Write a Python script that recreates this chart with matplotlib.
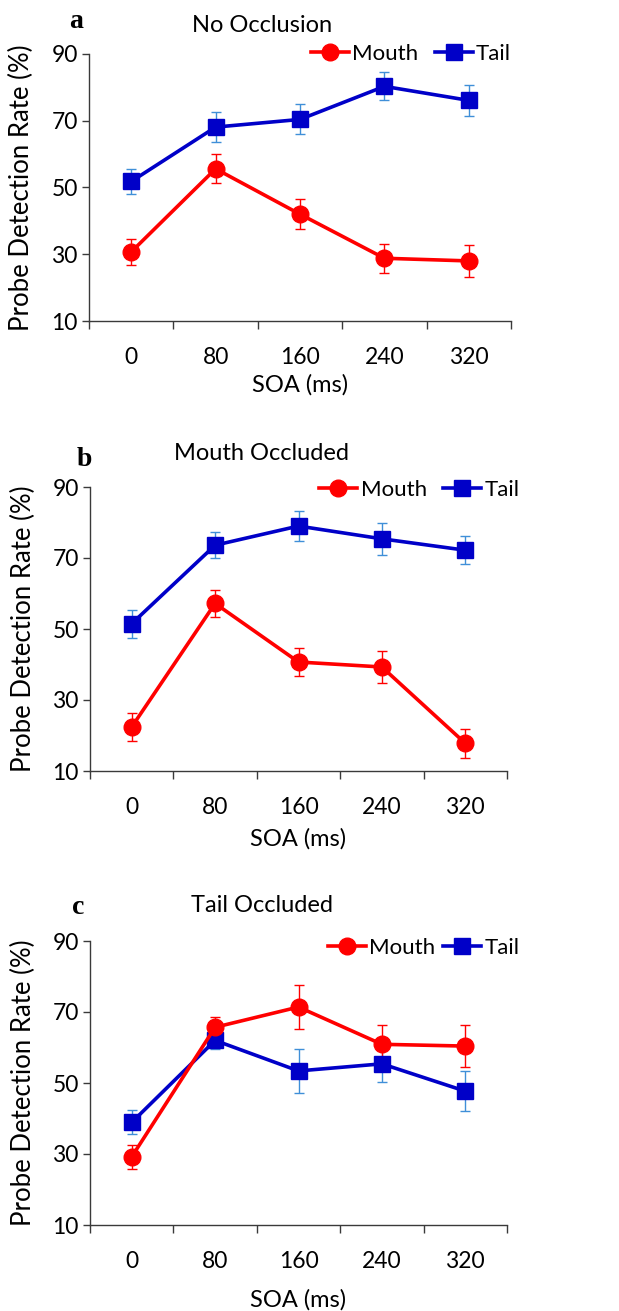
import numpy as np
import matplotlib.pyplot as plt
from matplotlib.ticker import FixedLocator

plt.rcParams['font.family'] = ['Lato', 'DejaVu Sans']

soa = ['0', '80', '160', '240', '320']

mouth_a = [30.7, 55.6, 42.0, 28.8, 28.0]
mouth_a_err = [3.8, 4.3, 4.5, 4.3, 4.7]
tail_a = [51.8, 68.1, 70.4, 80.3, 76.1]
tail_a_err = [3.8, 4.4, 4.5, 4.2, 4.6]

mouth_b = [22.4, 57.2, 40.7, 39.3, 17.8]
mouth_b_err = [4.0, 3.7, 4.0, 4.6, 4.1]
tail_b = [51.5, 73.6, 79.0, 75.4, 72.2]
tail_b_err = [3.9, 3.7, 4.1, 4.5, 4.0]

mouth_c = [29.2, 65.7, 71.4, 60.9, 60.4]
mouth_c_err = [3.4, 3.0, 6.1, 5.5, 5.8]
tail_c = [38.9, 62.0, 53.4, 55.4, 47.7]
tail_c_err = [3.4, 2.5, 6.1, 5.1, 5.7]

titles = ['No Occlusion', 'Mouth Occluded', 'Tail Occluded']
letters = ['a', 'b', 'c']

red = '#FF0000'
blue = '#0000C8'
blue_err = '#3F8FD8'
axcol = '#3a3a3a'

W, H = 619, 1311
fig = plt.figure(figsize=(W / 100, H / 100), dpi=100)

# axes boxes in pixels: left, right, top, bottom
boxes = [(89, 511, 54, 321), (90, 507, 487, 771), (90, 507, 941, 1225)]
letter_pos = [(76, 22), (84, 460), (78, 908)]
title_pos = [(262, 25), (261, 454), (262, 906)]
leg_pos = [(1.0, 1.0), (1.03, 0.99), (1.03, 0.976)]
colspace = [0.75, 0.75, 0.35]
xlabpad = [4, 7, 12]

data = [(mouth_a, mouth_a_err, tail_a, tail_a_err),
        (mouth_b, mouth_b_err, tail_b, tail_b_err),
        (mouth_c, mouth_c_err, tail_c, tail_c_err)]

x = np.arange(len(soa))
for i, (m, me, t, te) in enumerate(data):
    l, r, top, bot = boxes[i]
    ax = fig.add_axes([l / W, 1 - bot / H, (r - l) / W, (bot - top) / H])

    ax.errorbar(x, t, yerr=te, fmt='none', ecolor=blue_err, elinewidth=1.0,
                capsize=3.6, capthick=1.0, zorder=2)
    ax.errorbar(x, m, yerr=me, fmt='none', ecolor=red, elinewidth=1.0,
                capsize=3.6, capthick=1.0, zorder=2)
    if i == 2:
        ax.plot(x, t, color=blue, lw=2.6, marker='s', ms=11, label='Tail', zorder=3)
        ax.plot(x, m, color=red, lw=2.6, marker='o', ms=12, label='Mouth', zorder=4)
    else:
        ax.plot(x, m, color=red, lw=2.6, marker='o', ms=12, label='Mouth', zorder=3)
        ax.plot(x, t, color=blue, lw=2.6, marker='s', ms=11, label='Tail', zorder=4)

    ax.set_xlim(-0.5, 4.5)
    ax.set_ylim(10, 90)
    ax.set_yticks([10, 30, 50, 70, 90])
    ax.xaxis.set_major_locator(FixedLocator(np.arange(-0.5, 5.0, 1.0)))
    ax.xaxis.set_minor_locator(FixedLocator(x))
    ax.set_xticklabels([])
    ax.set_xticklabels(soa, minor=True)
    ax.tick_params(axis='x', which='major', length=6, width=1, color=axcol, direction='out')
    ax.tick_params(axis='x', which='minor', length=0, pad=19, labelsize=16.5)
    ax.tick_params(axis='y', length=5, width=1, color=axcol, labelsize=16.5, pad=3)
    for s in ['top', 'right']:
        ax.spines[s].set_visible(False)
    for s in ['left', 'bottom']:
        ax.spines[s].set_color(axcol)
        ax.spines[s].set_linewidth(1)

    ax.set_ylabel('Probe Detection Rate (%)', fontsize=18.5)
    ax.yaxis.set_label_coords(-0.13, 0.5)
    ax.set_xlabel('SOA (ms)', fontsize=17, labelpad=xlabpad[i])

    h, lab = ax.get_legend_handles_labels()
    order = [lab.index('Mouth'), lab.index('Tail')]
    ax.legend([h[k] for k in order], [lab[k] for k in order], loc='center right',
              bbox_to_anchor=leg_pos[i], ncol=2, frameon=False, fontsize=16,
              handlelength=1.7, handletextpad=0.15, columnspacing=colspace[i],
              borderpad=0, borderaxespad=0)

    fig.text(letter_pos[i][0] / W, 1 - letter_pos[i][1] / H, letters[i],
             family='Liberation Serif', weight='bold', fontsize=20,
             ha='center', va='center')
    fig.text(title_pos[i][0] / W, 1 - title_pos[i][1] / H, titles[i],
             fontsize=17, ha='center', va='center')

fig.savefig('out.png', dpi=100)
